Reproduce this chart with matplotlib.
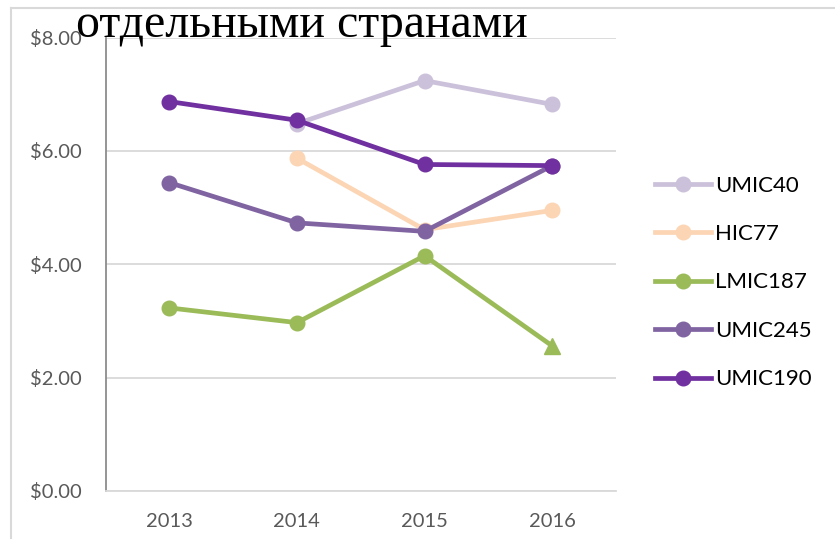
import matplotlib
matplotlib.use("Agg")
import matplotlib.pyplot as plt
from matplotlib.lines import Line2D
from matplotlib.ticker import FuncFormatter

# data
years = ["2013", "2014", "2015", "2016"]
umic40 = [None, 6.48, 7.24, 6.82]
hic77 = [None, 5.87, 4.61, 4.95]
lmic187 = [3.23, 2.97, 4.15, 2.56]
umic245 = [5.44, 4.73, 4.58, 5.74]
umic190 = [6.87, 6.54, 5.76, 5.74]

series = [
    ("UMIC40", umic40, "#CCC1DA"),
    ("HIC77", hic77, "#FCD5B5"),
    ("LMIC187", lmic187, "#9BBB59"),
    ("UMIC245", umic245, "#8064A2"),
    ("UMIC190", umic190, "#7030A0"),
]

title = "отдельными странами"

W, H = 835, 548
fig = plt.figure(figsize=(W / 100, H / 100), dpi=100)
ax = fig.add_axes([105.5 / W, 1 - 491 / H, (616 - 105.5) / W, (491 - 37.5) / H])

tick_font = "Lato"
handles = []
for name, vals, col in series:
    xs = [i for i, v in enumerate(vals) if v is not None]
    ys = [v for v in vals if v is not None]
    if name == "LMIC187":
        # last point of this series has a triangle marker
        ax.plot(xs, ys, color=col, lw=3.4, marker="o", ms=10.5,
                markevery=list(range(len(xs) - 1)), zorder=3)
        ax.plot(xs[-1:], ys[-1:], color=col, marker="^", ms=12, lw=0, zorder=4)
    else:
        ax.plot(xs, ys, color=col, lw=3.4, marker="o", ms=10.5, zorder=3)
    handles.append(Line2D([], [], color=col, lw=3.4, marker="o", ms=10.5, label=name))

ax.set_xlim(-0.5, 3.5)
ax.set_ylim(0, 8)
ax.set_yticks([0, 2, 4, 6, 8])
ax.yaxis.set_major_formatter(FuncFormatter(lambda v, p: "${:.2f}".format(v)))
ax.set_xticks(range(len(years)))
ax.set_xticklabels(years)
ax.grid(axis="y", color="#D9D9D9", lw=1.3)
ax.set_axisbelow(True)
for s in ["top", "right"]:
    ax.spines[s].set_visible(False)
ax.spines["left"].set_color("#8C8C8C")
ax.spines["left"].set_linewidth(1.3)
ax.spines["bottom"].set_color("#D9D9D9")
ax.spines["bottom"].set_linewidth(1.3)
ax.tick_params(length=0, labelsize=14.5, labelcolor="#595959")
ax.tick_params(axis="y", pad=17)
ax.tick_params(axis="x", pad=16)
for lab in ax.get_xticklabels() + ax.get_yticklabels():
    lab.set_family(tick_font)

leg = fig.legend(handles=handles, loc="center left",
                 bbox_to_anchor=(655 / W, 1 - 282.5 / H), frameon=False,
                 borderpad=0, borderaxespad=0, handlelength=2.5,
                 handletextpad=0.2, labelspacing=1.28,
                 prop={"family": tick_font, "size": 16})

# chart frame (left and top border)
fig.add_artist(Line2D([11 / W, 11 / W], [1 - 538 / H, 1 - 8 / H], color="#D9D9D9", lw=1.5))
fig.add_artist(Line2D([11 / W, 1.0], [1 - 8 / H, 1 - 8 / H], color="#D9D9D9", lw=1.5))

fig.text(76 / W, 1 - 37 / H, title, family="Liberation Serif", fontsize=34.5,
         ha="left", va="baseline", color="black")

fig.savefig("out.png", dpi=100)
